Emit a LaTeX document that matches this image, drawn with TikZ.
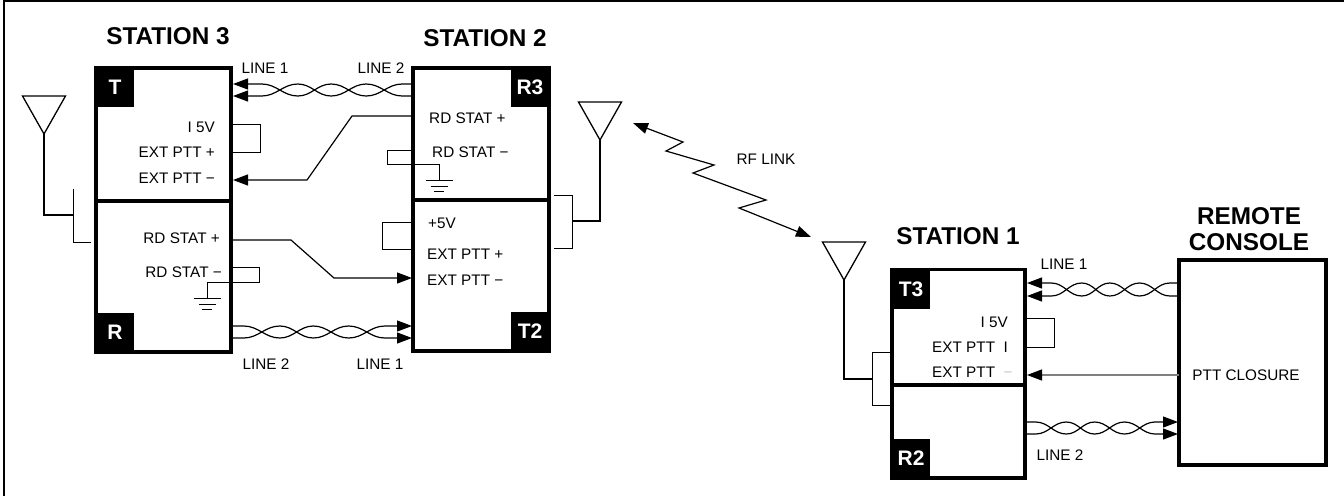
\documentclass[tikz,border=0pt]{standalone}
\usepackage{xcolor}
\usepackage{fontspec}
\setmainfont{Liberation Sans}
\usetikzlibrary{arrows.meta,calc}

\tikzset{
    unitbox/.style={draw, line width=3.2pt, anchor=north west, inner sep=0pt, outer sep=0pt},
    tabbox/.style={fill=black, text=white, inner sep=0pt, outer sep=0pt, minimum width=38pt, minimum height=39pt, font=\fontsize{21}{21}\selectfont\bfseries},
    title/.style={inner sep=0pt, font=\fontsize{24.3}{26}\selectfont\bfseries, align=center},
    lbl/.style={inner sep=0pt, text height=10.8pt, text depth=0pt, font=\fontsize{15.3}{15.3}\selectfont},
    wire/.style={line width=1.2pt},
    stub/.style={line width=1pt},
    antenna/.style={line width=1.3pt, line join=miter}
}

% Twisted pair between two rails: start/end of first wire, start/end of second wire
\newcommand{\twistpair}[6][]{
    \draw[wire, #1] (#2) -- ($(#2)!{.16+#6}!(#3)$)
        to[out=0,in=180] ($(#4)!{.36+#6}!(#5)$)
        to[out=0,in=180] ($(#2)!{.545+#6}!(#3)$)
        to[out=0,in=180] ($(#4)!{.74+#6}!(#5)$)
        to[out=0,in=180] ($(#2)!{.94+#6}!(#3)$) -- (#3);
    \draw[wire, #1] (#4) -- ($(#4)!{.16+#6}!(#5)$)
        to[out=0,in=180] ($(#2)!{.36+#6}!(#3)$)
        to[out=0,in=180] ($(#4)!{.545+#6}!(#5)$)
        to[out=0,in=180] ($(#2)!{.74+#6}!(#3)$)
        to[out=0,in=180] ($(#4)!{.94+#6}!(#5)$) -- (#5);
}
% Antenna triangle, with a named coordinate at its apex
\newcommand{\antenna}[3]{
    \draw[antenna] (#2-21.5,#3-38) -- ++(43,0) -- (#2,#3) -- cycle;
    \coordinate (#1) at (#2,#3);
}
% Ground symbol hanging from a named coordinate
\newcommand{\ground}[1]{
    \draw[stub] ($(#1)+(-13.5,0)$) -- ($(#1)+(13.5,0)$);
    \draw[stub] ($(#1)+(-8.5,6)$) -- ($(#1)+(8.5,6)$);
    \draw[stub] ($(#1)+(-5,11)$) -- ($(#1)+(5,11)$);
}

\begin{document}
\begin{tikzpicture}[
    x=1pt,
    y=-1pt,
    >={Triangle[length=15pt,width=11pt]}
]
    \useasboundingbox (0,0) rectangle (1344,496);
    \draw[line width=2pt] (4,496) -- (4,0.8) -- (1344,0.8);

    % Station 3
    \node[unitbox, minimum width=135pt, minimum height=133pt] (unitT) at (96,68) {};
    \node[unitbox, minimum width=135pt, minimum height=151pt] (unitR) at (96,201) {};
    \node[tabbox, anchor=north west] (tabT) at (unitT.north west) {T};
    \node[tabbox, anchor=south west] (tabR) at (unitR.south west) {R};
    \node[title] (titleS3) at (168,36) {STATION 3};
    \node[lbl, anchor=east] (t5v) at (215,127) {I 5V};
    \node[lbl, anchor=east] (tpttp) at (215,152) {EXT PTT~+};
    \node[lbl, anchor=east] (tpttm) at (215,178) {EXT PTT~−};
    \node[lbl, anchor=east] (rstatp) at (220,238) {RD STAT~+};
    \node[lbl, anchor=east] (rstatm) at (222,272) {RD STAT~−};

    % Station 2
    \node[unitbox, minimum width=136pt, minimum height=132pt] (unitR3) at (413,68) {};
    \node[unitbox, minimum width=136pt, minimum height=151pt] (unitT2) at (413,200) {};
    \node[tabbox, anchor=north east] (tabR3) at (unitR3.north east) {R3};
    \node[tabbox, anchor=south east] (tabT2) at (unitT2.south east) {T2};
    \node[title] (titleS2) at (485,38.5) {STATION 2};
    \node[lbl, anchor=west] (r3statp) at (429,118) {RD STAT~+};
    \node[lbl, anchor=west] (r3statm) at (432,152) {RD STAT~−};
    \node[lbl, anchor=west] (t25v) at (428,223) {+5V};
    \node[lbl, anchor=west] (t2pttp) at (427,254) {EXT PTT~+};
    \node[lbl, anchor=west] (t2pttm) at (427,280) {EXT PTT~−};

    % Station 1
    \node[unitbox, minimum width=133pt, minimum height=115.5pt] (unitT3) at (892,269.5) {};
    \node[unitbox, minimum width=133pt, minimum height=93pt] (unitR2) at (892,385) {};
    \node[tabbox, anchor=north west] (tabT3) at (unitT3.north west) {T3};
    \node[tabbox, anchor=south west] (tabR2) at (unitR2.south west) {R2};
    \node[title] (titleS1) at (958,236) {STATION 1};
    \node[lbl, anchor=east] (t35v) at (1008,322) {I 5V};
    \node[lbl, anchor=west] (t3pttp) at (932,347) {EXT PTT~~I};
    \node[lbl, anchor=west] (t3pttm) at (932,372) {EXT PTT~~{\color{gray!45}−}};

    % Remote console
    \node[unitbox, minimum width=147pt, minimum height=205pt] (console) at (1179,260) {};
    \node[title] (titleRC) at (1249,229) {REMOTE\\CONSOLE};
    \node[lbl] (closure) at (1246,375) {PTT CLOSURE};

    % Line labels
    \node[lbl] (line1a) at (265,68) {LINE 1};
    \node[lbl] (line2a) at (381,68) {LINE 2};
    \node[lbl] (line2b) at (266,364) {LINE 2};
    \node[lbl] (line1b) at (380,364) {LINE 1};
    \node[lbl] (line1c) at (1064,264) {LINE 1};
    \node[lbl] (line2c) at (1060,455) {LINE 2};
    \node[lbl] (rflink) at (766,159) {RF LINK};

    % Ends of the twisted pairs
    \coordinate (tA) at (233,84);
    \coordinate (tB) at (233,96);
    \coordinate (rthreeA) at (413,84);
    \coordinate (rthreeB) at (413,96);
    \coordinate (rA) at (231,326);
    \coordinate (rB) at (231,338);
    \coordinate (ttwoA) at (412,326);
    \coordinate (ttwoB) at (412,338);
    \coordinate (tthreeA) at (1027,283);
    \coordinate (tthreeB) at (1027,296);
    \coordinate (conA) at (1179,283);
    \coordinate (conB) at (1179,296);
    \coordinate (rtwoA) at (1025,422);
    \coordinate (rtwoB) at (1025,434);
    \coordinate (conC) at (1178,422);
    \coordinate (conD) at (1178,434);

    \twistpair[<-]{tA}{rthreeA}{tB}{rthreeB}{0}
    \twistpair[->]{rA}{ttwoA}{rB}{ttwoB}{-.09}
    \twistpair[<-]{tthreeA}{conA}{tthreeB}{conB}{0}
    \twistpair[->]{rtwoA}{conC}{rtwoB}{conD}{-.09}

    % Status wires
    \coordinate (r3out) at (413,116);
    \coordinate (tin) at (233,180);
    \coordinate (rout) at (231,240);
    \coordinate (t2in) at (412,278);
    \coordinate (t3in) at (1027,375);
    \draw[wire, ->] (r3out) -- (352,116) -- (307,180) -- (tin);
    \draw[wire, ->] (rout) -- (291,240) -- (334,278) -- (t2in);
    \draw[wire, gray, -{Triangle[length=15pt,width=11pt,black]}] (console.west |- closure) -- (t3in);

    % Jumpers
    \draw[stub] (231,124) -- (260,124) -- (260,152) -- (231,152);
    \draw[stub] (413,222) -- (382,222) -- (382,249) -- (413,249);
    \draw[stub] (1025,318) -- (1054,318) -- (1054,347) -- (1025,347);

    % Grounds
    \coordinate (gndR) at (207,298);
    \coordinate (gndRthree) at (439,180);
    \draw[stub] (231,267) -- (259,267) -- (259,282) -- (207,282) -- (gndR);
    \ground{gndR}
    \draw[stub] (413,150) -- (387,150) -- (387,164) -- (439,164) -- (gndRthree);
    \ground{gndRthree}

    % Antennas
    \antenna{antS}{44}{134}
    \antenna{antM}{600}{140}
    \antenna{antE}{844}{280}
    \draw[antenna] (antS) |- (73,215);
    \draw[stub] (73,189) -- (73,242) -- (91,242);
    \draw[antenna] (antM) |- (572,221);
    \draw[stub] (554,195) -- (572,195) -- (572,248) -- (554,248);
    \draw[antenna] (antE) |- (872,379);
    \draw[stub] (892,352) -- (872,352) -- (872,405) -- (892,405);

    % RF link
    \coordinate (rfA) at (633,123);
    \coordinate (rfB) at (811,237);
    \draw[wire, <->] (rfA) -- (683,142) -- (666,151) -- (714,165) -- (693,173) -- (766,200) -- (739,208) -- (rfB);
\end{tikzpicture}
\end{document}
